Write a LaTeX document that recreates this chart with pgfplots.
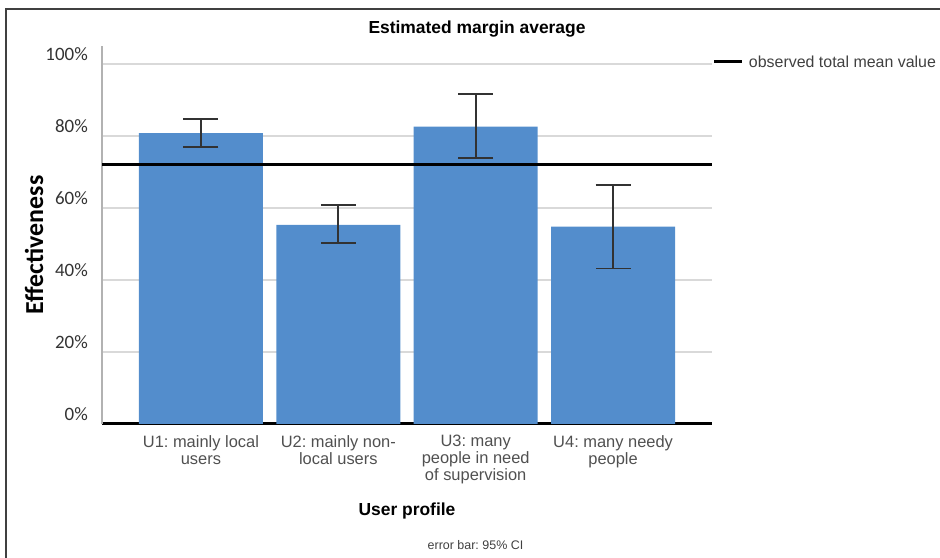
\documentclass[border=0pt]{standalone}
\usepackage{fontspec}
\setmainfont{Liberation Sans}
\newfontfamily\calibri{Carlito}
\usepackage{pgfplots}
\pgfplotsset{compat=1.18}

\definecolor{barblue}{RGB}{83,141,204}
\definecolor{gridgray}{RGB}{217,217,217}
\definecolor{labelgray}{RGB}{80,80,80}
\definecolor{errgray}{RGB}{50,50,50}

\pgfplotstableread{
x   y     up    down
0   80.8  3.9   3.9
1   55.3  5.5   5.0
2   82.6  9.1   8.8
3   54.8  11.6  11.6
}\profiles

\frenchspacing
\begin{document}
\begin{tikzpicture}[x=1bp,y=1bp]
\useasboundingbox (0,0) rectangle (940,558);
% frame
\draw[line width=1.5bp, black!75] (6,0) -- (6,549) -- (940,549);

\begin{axis}[
  at={(102bp,134bp)}, anchor=south west,
  scale only axis,
  width=610bp, height=378bp,
  xmin=-0.72, xmax=3.72,
  ymin=0, ymax=105,
  axis x line=bottom, axis y line=left,
  axis line style={-},
  x axis line style={black, line width=3bp},
  y axis line style={black!30, line width=1.5bp},
  major tick length=0pt,
  ytick={0,20,40,60,80,100},
  yticklabels={0\%,20\%,40\%,60\%,80\%,100\%},
  yticklabel style={anchor=base east, inner sep=0pt, xshift=-14bp, yshift=3bp,
    font=\calibri\fontsize{19}{21}\selectfont, text=black!80},
  ymajorgrids,
  grid style={gridgray, line width=1.5bp},
  xtick={0,1,2,3},
  xticklabels={{U1: mainly local\\users},{U2: mainly non-\\local users},{U3: many\\people in need\\of supervision},{U4: many needy\\people}},
  xticklabel style={anchor=north, align=center, inner sep=0pt, yshift=-11bp,
    font=\fontsize{16.5}{17}\selectfont, text=labelgray},
  title={Estimated margin average},
  title style={at={(rel axis cs:0.6148,1.0185)}, anchor=base,
    font=\bfseries\fontsize{17.5}{20}\selectfont},
  xlabel={User profile},
  xlabel style={at={(rel axis cs:0.5,-0.2434)}, anchor=base,
    font=\bfseries\fontsize{17.5}{20}\selectfont},
  ylabel={Effectiveness},
  ylabel style={at={(rel axis cs:-0.0967,0.4735)}, anchor=base, rotate=0,
    font=\calibri\bfseries\fontsize{26}{28}\selectfont},
  legend style={at={(rel axis cs:1.0016,0.9577)}, anchor=west,
    draw=none, fill=none, inner sep=0pt, outer sep=0pt,
    nodes={inner sep=0pt, text=black!75, font=\fontsize{16}{18}\selectfont}},
  legend cell align=left,
  legend image code/.code={
    \draw[line width=3bp] (0bp,0bp) -- (28bp,0bp);
    \path (33bp,0bp);
  },
  clip=false,
]
% bars with 95% CI error bars
\addplot[ybar, bar width=124bp, fill=barblue, draw=none, forget plot,
  error bars/.cd, y dir=both, y explicit,
  error bar style={line width=1.8bp, errgray},
  error mark options={rotate=90, mark size=17.5bp, line width=1.8bp, errgray}]
  table[x=x, y=y, y error plus=up, y error minus=down] {\profiles};
% observed total mean value
\addplot[black, line width=3bp] coordinates {(-0.72,72.1) (3.72,72.1)};
\addlegendentry{observed total mean value}
\end{axis}

\node[anchor=base, font=\fontsize{12.5}{14}\selectfont, text=black!75] at (475.5,8) {error bar: 95\% CI};
\end{tikzpicture}
\end{document}
